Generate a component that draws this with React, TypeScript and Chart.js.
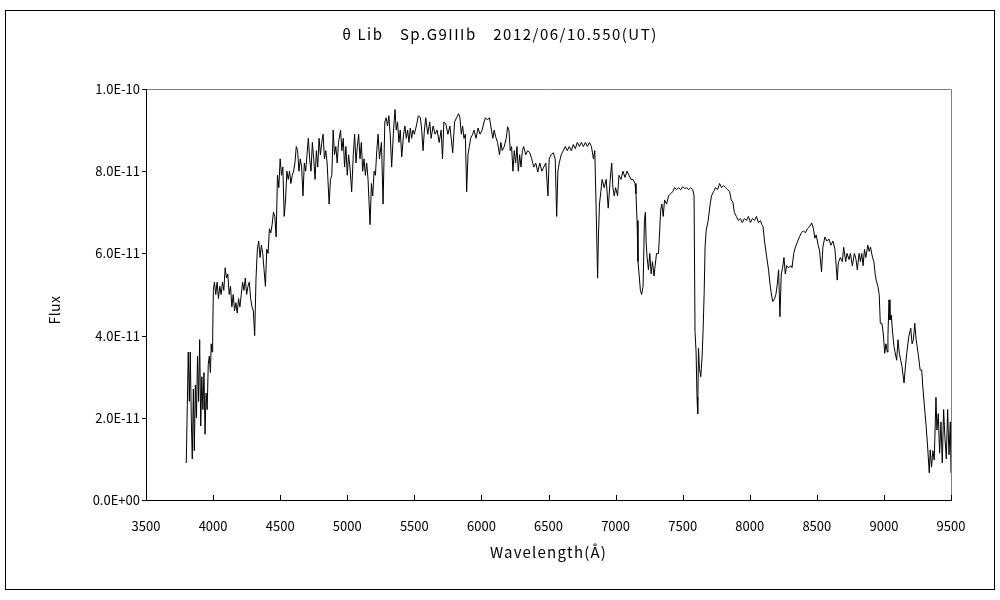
import { useEffect, useRef } from "react";
import { Chart, registerables } from "chart.js";

Chart.register(...registerables);

// Wavelength (Å)
const wavelengths = [
  3800, 3808, 3815, 3823, 3830, 3838, 3845, 3853, 3860, 3868, 3876, 3884, 3892, 3900, 3908, 3916, 3924, 3932, 3940, 3948,
  3956, 3964, 3972, 3980, 3986, 3992, 3997, 4002,
  4010, 4020, 4030, 4040, 4050, 4060, 4070, 4080, 4090, 4100, 4110, 4120, 4130, 4140, 4150, 4160, 4170, 4180, 4190, 4200,
  4210, 4220, 4230, 4240, 4250, 4260, 4270, 4280, 4290, 4300, 4310, 4320, 4330, 4340, 4350, 4360, 4370, 4380, 4390, 4400,
  4410, 4420, 4430, 4440, 4450, 4460, 4470, 4480, 4490, 4500, 4510, 4520, 4530, 4540, 4550, 4560, 4570, 4580, 4590, 4600,
  4610, 4620, 4630, 4640, 4650, 4660, 4670, 4680, 4690, 4700, 4710, 4720, 4730, 4740,
  4750, 4760, 4770, 4780, 4790, 4800, 4810, 4820, 4830, 4840, 4850, 4865, 4875, 4885, 4895, 4905, 4915, 4925, 4935, 4950,
  4960, 4970, 4980, 4990, 5000, 5010, 5020, 5033, 5045, 5055, 5065, 5075, 5085, 5095, 5105, 5115, 5125, 5135, 5145, 5155,
  5170, 5180, 5190, 5200, 5210, 5220, 5230, 5240, 5255, 5267, 5280, 5290, 5300, 5310, 5320, 5331, 5345, 5356, 5365, 5375,
  5385, 5395, 5406, 5420, 5430, 5440, 5450, 5460, 5470, 5480, 5490, 5500, 5515, 5530, 5545, 5555, 5565, 5575, 5585, 5600,
  5615, 5625, 5640, 5655, 5670, 5685, 5700, 5710, 5720, 5735, 5750, 5765, 5786, 5800, 5815, 5830, 5840,
  5850, 5860, 5870, 5880, 5890, 5900, 5910, 5920, 5935, 5945, 5960, 5975, 5990, 6005, 6020, 6030, 6045, 6060, 6075, 6085,
  6095, 6105, 6120, 6135, 6145, 6155, 6170, 6185, 6195, 6205, 6215, 6225, 6235, 6245, 6255, 6265, 6275, 6285, 6295, 6305,
  6315, 6330, 6345, 6360, 6375, 6390, 6405, 6420, 6435, 6450, 6465, 6480, 6496, 6505, 6520, 6535, 6550, 6561, 6570, 6580,
  6595, 6610, 6625, 6640, 6655, 6670, 6685, 6700, 6715, 6730, 6745, 6760, 6775, 6790, 6805, 6820, 6835, 6845, 6855, 6866,
  6872, 6880, 6890, 6900, 6915, 6930, 6945, 6960, 6971, 6980, 6990, 7000, 7015, 7025, 7040, 7055, 7070, 7085, 7100, 7115,
  7130, 7145, 7152, 7160, 7167, 7175, 7185, 7194, 7205, 7215, 7222, 7228, 7235, 7245, 7255, 7265, 7275, 7286, 7295, 7305,
  7320, 7336, 7345, 7355, 7365, 7380, 7395, 7410, 7425, 7440, 7455, 7470, 7485, 7500, 7515, 7530, 7545, 7560, 7575, 7585,
  7592, 7600, 7607, 7612, 7618, 7625, 7635, 7645, 7652, 7660, 7667, 7675, 7690, 7705, 7715, 7730, 7745, 7760, 7775, 7790,
  7805, 7820, 7835, 7850, 7862, 7874, 7885, 7900, 7915, 7930, 7945, 7960, 7975, 7990, 8005, 8020, 8035, 8050, 8065, 8080,
  8090, 8099, 8110, 8127, 8140, 8150, 8160, 8171, 8185, 8195, 8205, 8215, 8225, 8235, 8245, 8255, 8265, 8275, 8290, 8305,
  8315, 8328, 8340, 8355, 8370, 8385, 8400, 8415, 8430, 8445, 8462, 8475, 8485, 8495, 8510, 8520, 8535, 8545, 8560, 8575,
  8590, 8605, 8620, 8635, 8652, 8660, 8675, 8690, 8700, 8715, 8725, 8740, 8750, 8765, 8780, 8792, 8802, 8815, 8825, 8835,
  8845, 8855, 8865, 8880, 8890, 8900, 8915, 8925, 8935, 8942, 8955, 8965, 8973, 8985, 8995, 9006, 9015, 9025, 9030, 9038,
  9045, 9055, 9065, 9075, 9095, 9105, 9115, 9125, 9135, 9150, 9160, 9170, 9185, 9200, 9210, 9220, 9230, 9240, 9255, 9270,
  9282, 9290, 9300, 9315, 9326, 9338, 9345, 9355, 9365, 9375, 9388, 9395, 9405, 9415, 9425, 9435, 9445, 9455, 9465, 9475,
  9485, 9495, 9500,
];

// Flux in units of 1E-11
const flux = [
  0.9, 2.3, 3.6, 2.4, 3.6, 1.9, 1.0, 2.7, 1.2, 2.8, 2.0, 3.5, 2.4, 3.9, 1.8, 3.0, 2.2, 3.1, 1.6, 2.6,
  2.2, 3.3, 3.5, 3.1, 3.8, 3.6, 4.0, 5.1,
  5.3, 5.0, 5.3, 4.9, 5.2, 5.0, 5.3, 5.1, 5.65, 5.4, 5.5, 5.0, 5.2, 4.7, 5.0, 4.6, 4.8, 4.55, 4.9, 4.7,
  5.0, 5.3, 5.1, 5.4, 5.0, 5.2, 5.3, 4.9, 4.7, 4.6, 4.0, 5.4, 6.1, 6.3, 5.9, 6.2, 6.0, 5.6, 5.2, 6.1,
  6.0, 6.6, 6.5, 6.7, 7.0, 6.9, 6.4, 7.9, 7.6, 8.3, 7.9, 8.1, 6.9, 7.3, 8.0, 7.8, 8.0, 7.7, 7.9, 8.0,
  8.2, 8.6, 8.5, 8.0, 8.3, 8.1, 7.4, 8.2, 8.0, 8.4, 8.8, 8.3, 8.0, 8.7,
  8.3, 7.8, 8.5, 8.1, 8.8, 8.4, 8.7, 8.9, 8.3, 8.5, 8.2, 7.2, 7.8, 7.9, 9.0, 8.4, 8.6, 8.2, 8.7, 9.0,
  8.5, 8.8, 8.1, 8.6, 7.9, 8.4, 8.1, 7.5, 8.4, 8.9, 8.2, 8.6, 8.9, 8.3, 8.7, 8.0, 8.3, 7.9, 8.2, 7.8,
  6.7, 7.7, 7.4, 8.0, 7.9, 8.5, 8.9, 8.3, 8.7, 7.2, 9.2, 9.3, 9.1, 9.35, 8.9, 8.1, 9.0, 9.5, 9.0, 9.2,
  8.7, 9.0, 8.35, 8.9, 9.1, 8.8, 9.0, 8.7, 9.05, 8.8, 9.0, 8.9, 9.1, 9.35, 9.3, 9.0, 8.5, 9.0, 9.3, 8.9,
  9.2, 8.8, 9.1, 8.9, 9.0, 8.7, 9.0, 8.3, 9.2, 9.15, 8.9, 9.1, 8.45, 9.2, 9.3, 9.4, 9.3,
  8.9, 9.1, 8.8, 8.9, 7.5, 8.4, 8.6, 8.8, 8.9, 9.0, 8.8, 9.05, 8.9, 9.0, 9.2, 9.3, 9.25, 9.3, 9.0, 8.8,
  9.0, 8.85, 8.7, 8.4, 8.7, 8.5, 8.6, 8.8, 9.08, 9.0, 8.5, 8.6, 8.0, 8.5, 8.2, 8.6, 8.0, 8.4, 8.1, 8.5,
  8.6, 8.4, 8.5, 8.45, 8.3, 8.1, 8.2, 7.98, 8.2, 8.0, 8.1, 8.2, 7.4, 8.3, 8.4, 8.45, 8.3, 6.9, 8.0, 8.2,
  8.4, 8.5, 8.6, 8.5, 8.6, 8.5, 8.65, 8.55, 8.7, 8.6, 8.7, 8.6, 8.7, 8.6, 8.7, 8.6, 8.3, 8.5, 7.1, 5.4,
  6.4, 7.2, 7.5, 7.8, 7.6, 7.8, 7.1, 7.8, 8.2, 7.6, 7.4, 7.6, 7.4, 7.9, 7.8, 8.0, 7.85, 8.0, 7.9, 7.8,
  7.8, 7.7, 7.45, 6.8, 5.8, 5.5, 5.1, 5.0, 5.2, 6.8, 7.0, 6.25, 5.9, 5.6, 6.0, 5.5, 5.8, 5.45, 5.7, 6.0,
  6.0, 7.05, 7.2, 6.9, 7.3, 7.2, 7.4, 7.45, 7.5, 7.6, 7.55, 7.6, 7.55, 7.62, 7.58, 7.6, 7.55, 7.6, 7.55, 7.4,
  4.1, 3.6, 2.5, 2.1, 3.7, 3.2, 3.0, 3.5, 4.1, 5.0, 6.15, 6.55, 6.8, 7.2, 7.4, 7.5, 7.6, 7.55, 7.7, 7.6,
  7.65, 7.6, 7.55, 7.5, 7.3, 7.25, 7.0, 6.9, 6.8, 6.85, 6.75, 6.85, 6.8, 6.9, 6.75, 6.85, 6.8, 6.9, 6.75, 6.8,
  6.7, 6.65, 6.3, 5.9, 5.6, 5.28, 5.04, 4.83, 4.9, 5.0, 5.25, 5.6, 4.46, 5.5, 5.65, 5.9, 5.5, 5.7, 5.65, 5.7,
  5.65, 6.0, 6.15, 6.28, 6.4, 6.5, 6.55, 6.5, 6.6, 6.65, 6.74, 6.6, 6.37, 6.45, 6.2, 6.08, 5.55, 6.15, 6.4, 6.3,
  6.35, 6.2, 6.3, 6.1, 5.35, 5.77, 5.9, 5.8, 6.15, 5.8, 6.0, 5.85, 6.0, 5.7, 6.0, 5.85, 5.6, 6.0, 5.8, 6.0,
  5.7, 6.1, 5.9, 6.2, 6.05, 6.15, 5.9, 5.8, 5.5, 5.35, 5.2, 5.0, 4.3, 4.3, 4.06, 3.57, 3.8, 3.6, 4.0, 4.87,
  4.38, 4.5, 4.06, 3.73, 3.4, 3.9, 3.57, 3.4, 3.24, 2.85, 3.24, 3.57, 3.97, 4.18, 3.8, 3.9, 4.3, 3.9, 3.57, 3.16,
  3.16, 2.75, 2.36, 1.78, 1.29, 0.66, 1.22, 0.8, 1.2, 0.97, 2.5, 1.7, 2.1, 1.14, 1.9, 0.9, 2.2, 1.5, 1.0, 2.2,
  1.1, 1.9, 0.66,
];

const xTicks = [3500, 4000, 4500, 5000, 5500, 6000, 6500, 7000, 7500, 8000, 8500, 9000, 9500];
const yTicks = [0, 2, 4, 6, 8, 10];
const yTickLabels = ["0.0E+00", "2.0E-11", "4.0E-11", "6.0E-11", "8.0E-11", "1.0E-10"];

const chartTitle = "θ Lib　Sp.G9IIIb　2012/06/10.550(UT)";
const xTitle = "Wavelength(Å)";
const yTitle = "Flux";

const FONT_FAMILY = "'Noto Sans CJK JP', 'Noto Sans', sans-serif";

const decor = {
  id: "decor",
  beforeDraw(chart: any) {
    const { ctx, width, height } = chart;
    ctx.save();
    ctx.fillStyle = "#ffffff";
    ctx.fillRect(0, 0, width, height);
    ctx.restore();
  },
  afterDraw(chart: any) {
    const { ctx, chartArea, scales } = chart;
    const { left, right, top, bottom } = chartArea;
    const x = scales.x;
    const y = scales.y;
    ctx.save();
    ctx.lineWidth = 1;
    // outer frame
    ctx.strokeStyle = "#000000";
    ctx.strokeRect(5.5, 10.5, 989, 579);
    // plot border: top/right gray
    ctx.strokeStyle = "#808080";
    ctx.beginPath();
    ctx.moveTo(left, top + 0.5);
    ctx.lineTo(right + 0.5, top + 0.5);
    ctx.lineTo(right + 0.5, bottom);
    ctx.stroke();
    // left/bottom black
    ctx.strokeStyle = "#000000";
    ctx.beginPath();
    ctx.moveTo(left + 0.5, top);
    ctx.lineTo(left + 0.5, bottom + 0.5);
    ctx.lineTo(right + 1, bottom + 0.5);
    ctx.stroke();
    // x ticks (inward)
    ctx.beginPath();
    for (const v of xTicks) {
      const px = Math.round(x.getPixelForValue(v)) + 0.5;
      ctx.moveTo(px, bottom);
      ctx.lineTo(px, bottom - 5);
    }
    // y ticks (outward)
    for (const v of yTicks) {
      const py = Math.round(y.getPixelForValue(v)) + 0.5;
      ctx.moveTo(left - 4, py);
      ctx.lineTo(left, py);
    }
    ctx.stroke();
    // titles
    ctx.fillStyle = "#000000";
    ctx.textAlign = "center";
    ctx.textBaseline = "middle";
    ctx.font = `15px ${FONT_FAMILY}`;
    (ctx as any).letterSpacing = "1.5px";
    ctx.fillText(chartTitle, 500, 34);
    (ctx as any).letterSpacing = "1.2px";
    ctx.fillText(xTitle, (left + right) / 2, 552);
    (ctx as any).letterSpacing = "0.5px";
    ctx.font = `14px ${FONT_FAMILY}`;
    ctx.save();
    ctx.translate(55, 310);
    ctx.rotate(-Math.PI / 2);
    ctx.fillText(yTitle, 0, 0);
    ctx.restore();
    (ctx as any).letterSpacing = "0px";
    ctx.restore();
  },
};

export default function App() {
  const canvasRef = useRef<HTMLCanvasElement | null>(null);

  useEffect(() => {
    const canvas = canvasRef.current;
    if (!canvas) return;
    const points = wavelengths.map((w, i) => ({ x: w, y: flux[i] }));
    const font = { family: FONT_FAMILY, size: 13 };
    const chart = new Chart(canvas, {
      type: "line",
      data: {
        datasets: [
          {
            data: points,
            borderColor: "#000000",
            borderWidth: 1,
            pointRadius: 0,
            tension: 0,
            fill: false,
          },
        ],
      },
      options: {
        responsive: false,
        animation: false,
        devicePixelRatio: 1,
        parsing: false as any,
        layout: { padding: { top: 89, right: 49, bottom: 0, left: 0 } },
        plugins: {
          legend: { display: false },
          tooltip: { enabled: false },
          title: { display: false },
        },
        scales: {
          x: {
            type: "linear",
            min: 3500,
            max: 9500,
            afterBuildTicks: (s: any) => {
              s.ticks = xTicks.map((v) => ({ value: v }));
            },
            afterFit: (s: any) => {
              s.height = 100;
            },
            grid: { display: false, drawTicks: false },
            border: { display: false },
            ticks: {
              padding: 18,
              color: "#000000",
              font,
              maxRotation: 0,
              autoSkip: false,
              callback: (v: any) => String(v),
            },
          },
          y: {
            type: "linear",
            min: 0,
            max: 10,
            afterBuildTicks: (s: any) => {
              s.ticks = yTicks.map((v) => ({ value: v }));
            },
            afterFit: (s: any) => {
              s.width = 146;
            },
            grid: { display: false, drawTicks: false },
            border: { display: false },
            ticks: {
              padding: 6,
              color: "#000000",
              font,
              callback: (v: any) => yTickLabels[yTicks.indexOf(Number(v))] ?? "",
            },
          },
        },
      },
      plugins: [decor],
    } as any);
    return () => chart.destroy();
  }, []);

  return (
    <canvas
      ref={canvasRef}
      width={1000}
      height={600}
      style={{ position: "absolute", left: 0, top: 0, width: 1000, height: 600 }}
    />
  );
}
